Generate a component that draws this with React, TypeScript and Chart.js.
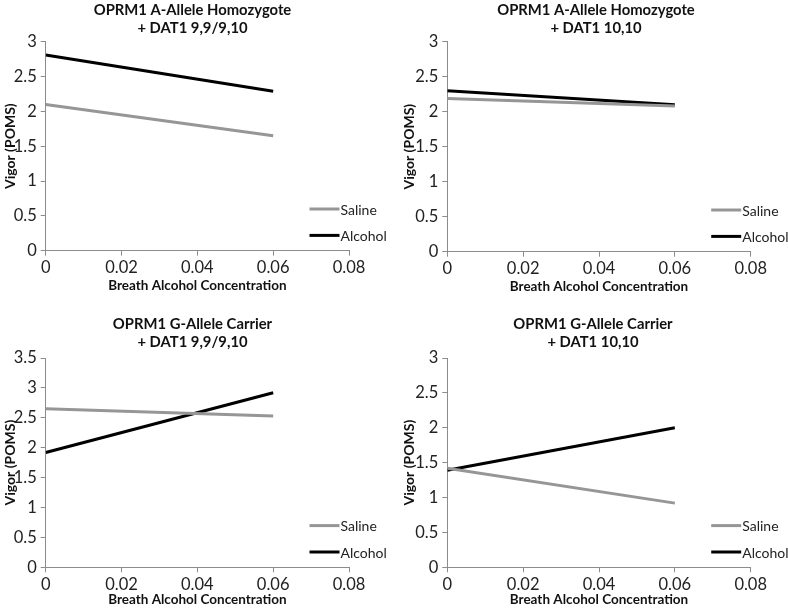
import React, { useEffect, useRef } from "react";
import { Chart, registerables } from "chart.js";

Chart.register(...registerables);

// ---- data ----
const bac = [0, 0.06];
const xTicks = [0, 0.02, 0.04, 0.06, 0.08];
const seriesNames = ["Saline", "Alcohol"];

const titles1 = ["OPRM1 A-Allele Homozygote", "+ DAT1 9,9/9,10"];
const saline1 = [2.1, 1.65];
const alcohol1 = [2.81, 2.29];

const titles2 = ["OPRM1 A-Allele Homozygote", "+ DAT1 10,10"];
const saline2 = [2.19, 2.08];
const alcohol2 = [2.3, 2.1];

const titles3 = ["OPRM1 G-Allele Carrier", "+ DAT1 9,9/9,10"];
const saline3 = [2.65, 2.53];
const alcohol3 = [1.92, 2.92];

const titles4 = ["OPRM1 G-Allele Carrier", "+ DAT1 10,10"];
const saline4 = [1.42, 0.92];
const alcohol4 = [1.39, 2.0];

const yMax = [3, 3, 3.5, 3];

const FONT = "Lato, 'Open Sans', sans-serif";

const legendPlugin = {
  id: "insideLegend",
  afterDatasetsDraw(chart: any) {
    const { ctx, chartArea } = chart;
    const ds = chart.data.datasets;
    const offsets = [41.7, 15.3];
    ctx.save();
    ds.forEach((d: any, i: number) => {
      const y = chartArea.bottom - offsets[i];
      const x0 = chartArea.right - 39.5;
      const x1 = chartArea.right - 9.5;
      ctx.strokeStyle = d.borderColor;
      ctx.lineWidth = 3;
      ctx.beginPath();
      ctx.moveTo(x0, y);
      ctx.lineTo(x1, y);
      ctx.stroke();
      ctx.fillStyle = "#222";
      ctx.font = `14px ${FONT}`;
      ctx.textBaseline = "middle";
      ctx.textAlign = "left";
      ctx.fillText(d.label, x1 + 1, y + 1);
    });
    ctx.restore();
  },
};

type PanelCfg = {
  titles: string[];
  saline: number[];
  alcohol: number[];
  yMax: number;
  padL: number;
  padR: number;
  left: number;
  right: number;
  top: number;
  titleGap: number;
  bottomAxis: number;
  yTitlePad: number;
  xTitlePad: number;
};

function Panel({ cfg }: { cfg: PanelCfg }) {
  const ref = useRef<HTMLCanvasElement>(null);
  useEffect(() => {
    const pts = (vals: number[]) => vals.map((v, i) => ({ x: bac[i], y: v }));
    const chart = new Chart(ref.current as HTMLCanvasElement, {
      type: "line",
      data: {
        datasets: [
          {
            label: seriesNames[0],
            data: pts(cfg.saline),
            borderColor: "#969696",
            borderWidth: 3,
            pointRadius: 0,
            tension: 0,
          },
          {
            label: seriesNames[1],
            data: pts(cfg.alcohol),
            borderColor: "#000000",
            borderWidth: 3,
            pointRadius: 0,
            tension: 0,
          },
        ],
      },
      options: {
        animation: false,
        responsive: false,
        maintainAspectRatio: false,
        layout: { padding: { left: cfg.padL, right: cfg.padR, top: 0, bottom: 0 } },
        plugins: {
          legend: { display: false },
          tooltip: { enabled: false },
          title: {
            display: true,
            text: cfg.titles,
            color: "#111",
            font: { family: FONT, size: 14.8, weight: "bold", lineHeight: 18 / 14.8 },
            padding: { top: cfg.top, bottom: cfg.titleGap },
          },
        },
        scales: {
          x: {
            type: "linear",
            min: 0,
            max: 0.08,
            afterBuildTicks: (axis: any) => {
              axis.ticks = xTicks.map((v) => ({ value: v }));
            },
            afterFit: (axis: any) => {
              axis.height = cfg.bottomAxis;
            },
            ticks: {
              color: "#222",
              font: { family: FONT, size: 16.5 },
              padding: 2,
              maxRotation: 0,
              callback: (v: any) => String(v),
            },
            grid: {
              display: true,
              drawOnChartArea: false,
              drawTicks: true,
              tickLength: 5,
              color: "#8c8c8c",
            },
            border: { display: true, color: "#8c8c8c", width: 1 },
            title: {
              display: true,
              text: "Breath Alcohol Concentration",
              color: "#111",
              font: { family: FONT, size: 13.5, weight: "bold", lineHeight: 1.1 },
              padding: { top: 0, bottom: cfg.xTitlePad },
            },
          },
          y: {
            type: "linear",
            position: "left",
            min: 0,
            max: cfg.yMax,
            afterFit: (axis: any) => {
              axis.width = cfg.left;
            },
            ticks: {
              stepSize: 0.5,
              color: "#222",
              font: { family: FONT, size: 16.5 },
              padding: 4,
              callback: (v: any) => String(v),
            },
            grid: {
              display: true,
              drawOnChartArea: false,
              drawTicks: true,
              tickLength: 5,
              color: "#8c8c8c",
            },
            border: { display: true, color: "#8c8c8c", width: 1 },
            title: {
              display: true,
              text: "Vigor (POMS)",
              color: "#111",
              font: { family: FONT, size: 14, weight: "bold", lineHeight: 1.2 },
              padding: { top: cfg.yTitlePad, bottom: 0 },
            },
          },
          spacer: {
            type: "linear",
            position: "right",
            display: true,
            afterFit: (axis: any) => {
              axis.width = cfg.right;
            },
            ticks: { display: false },
            grid: { display: false, drawTicks: false },
            border: { display: false },
            title: { display: false },
          },
        },
      },
      plugins: [legendPlugin],
    } as any);
    return () => chart.destroy();
  }, [cfg]);
  return <canvas ref={ref} width={394} height={304} style={{ display: "block", width: 394, height: 304 }} />;
}

const panels: PanelCfg[] = [
  { titles: titles1, saline: saline1, alcohol: alcohol1, yMax: yMax[0], padL: 0, padR: 9, left: 45.7, right: 36, top: 1, titleGap: 4.7, bottomAxis: 53.3, yTitlePad: 2, xTitlePad: 11 },
  { titles: titles2, saline: saline2, alcohol: alcohol2, yMax: yMax[1], padL: 10, padR: 0, left: 43.3, right: 37.3, top: 1, titleGap: 4.7, bottomAxis: 52.3, yTitlePad: -3, xTitlePad: 10 },
  { titles: titles3, saline: saline3, alcohol: alcohol3, yMax: yMax[2], padL: 0, padR: 9, left: 45.7, right: 36, top: 11, titleGap: 7, bottomAxis: 40.7, yTitlePad: 2, xTitlePad: 0.5 },
  { titles: titles4, saline: saline4, alcohol: alcohol4, yMax: yMax[3], padL: 4, padR: 0, left: 49.3, right: 37.3, top: 11, titleGap: 7, bottomAxis: 40.7, yTitlePad: 3, xTitlePad: 0.5 },
];

export default function App() {
  return (
    <div style={{ position: "absolute", left: 0, top: 0, width: 788, height: 608, background: "#fff" }}>
      <div style={{ display: "grid", gridTemplateColumns: "394px 394px", gridTemplateRows: "304px 304px" }}>
        {panels.map((p, i) => (
          <Panel key={i} cfg={p} />
        ))}
      </div>
    </div>
  );
}
